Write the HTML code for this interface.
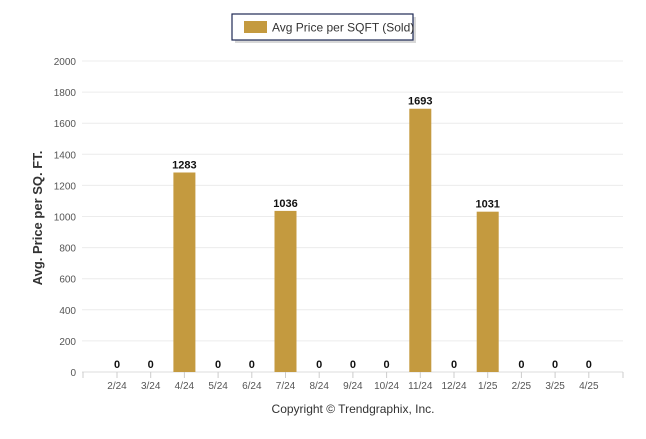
<!DOCTYPE html>
<html><head><meta charset="utf-8"><style>
body{margin:0;background:#fff;width:646px;height:434px;overflow:hidden;font-family:"Liberation Sans",sans-serif;}
</style></head><body>
<svg width="646" height="434" xmlns="http://www.w3.org/2000/svg">
<g>
<rect x="235" y="17" width="181" height="26" fill="#d8d8d8"/>
<rect x="232" y="14" width="181" height="26" fill="#fff" stroke="#1f2a55" stroke-width="1.2"/>
<rect x="244" y="21" width="23" height="12" fill="#c49a3f"/>
<text x="272" y="31.5" font-size="12" fill="#333">Avg Price per SQFT (Sold)</text>
</g>
<g id="grid"></g>
<g id="bars"></g>
<text transform="translate(42,218) rotate(-90)" text-anchor="middle" font-size="13" font-weight="bold" fill="#333">Avg. Price per SQ. FT.</text>
<text x="353" y="413" text-anchor="middle" font-size="12" fill="#333">Copyright © Trendgraphix, Inc.</text>
</svg>
<script>
const categories=["2/24","3/24","4/24","5/24","6/24","7/24","8/24","9/24","10/24","11/24","12/24","1/25","2/25","3/25","4/25"];
const values=[0,0,1283,0,0,1036,0,0,0,1693,0,1031,0,0,0];
const yTicks=[0,200,400,600,800,1000,1200,1400,1600,1800,2000];
const NS="http://www.w3.org/2000/svg";
const y0=372,y1=61,vmax=2000,left=82,right=623,c0=117,step=33.7,bw=22;
const y=v=>y0-(v/vmax)*(y0-y1);
const x=i=>c0+i*step;
function mk(t,a,p){const e=document.createElementNS(NS,t);for(const k in a)e.setAttribute(k,a[k]);p.appendChild(e);return e;}
const g=document.getElementById('grid'),b=document.getElementById('bars');
yTicks.forEach(t=>{
 const l=mk('line',{x1:left,x2:right,y1:y(t),y2:y(t),stroke:t===0?'#dcdcdc':'#ececec','stroke-width':1},g);
 
 
 const tx=mk('text',{x:76,y:y(t)+4,'text-anchor':'end','font-size':10,fill:'#555'},g);
 tx.textContent=t;
 
 
});
mk('line',{x1:83,x2:83,y1:y0,y2:y0+6,stroke:'#ccc'},g);
mk('line',{x1:right,x2:right,y1:y0,y2:y0+6,stroke:'#ccc'},g);
categories.forEach((c,i)=>{
 mk('line',{x1:x(i),x2:x(i),y1:y0,y2:y0+6,stroke:'#ccc'},g);
 const tx=mk('text',{x:x(i),y:y0+17,'text-anchor':'middle','font-size':10,fill:'#555'},g);
 tx.textContent=c;
 
 
 const v=values[i];
 if(v>0){
  const r=mk('rect',{x:x(i)-bw/2,y:y(v),width:bw,height:y0-y(v),fill:'#c49a3f'},b);
  
  
 }
 const lb=mk('text',{x:x(i),y:y(v)-4,'text-anchor':'middle','font-size':11,'font-weight':'bold',fill:'#111'},b);
 lb.textContent=v;
 
 
});
</script>
</body></html>
